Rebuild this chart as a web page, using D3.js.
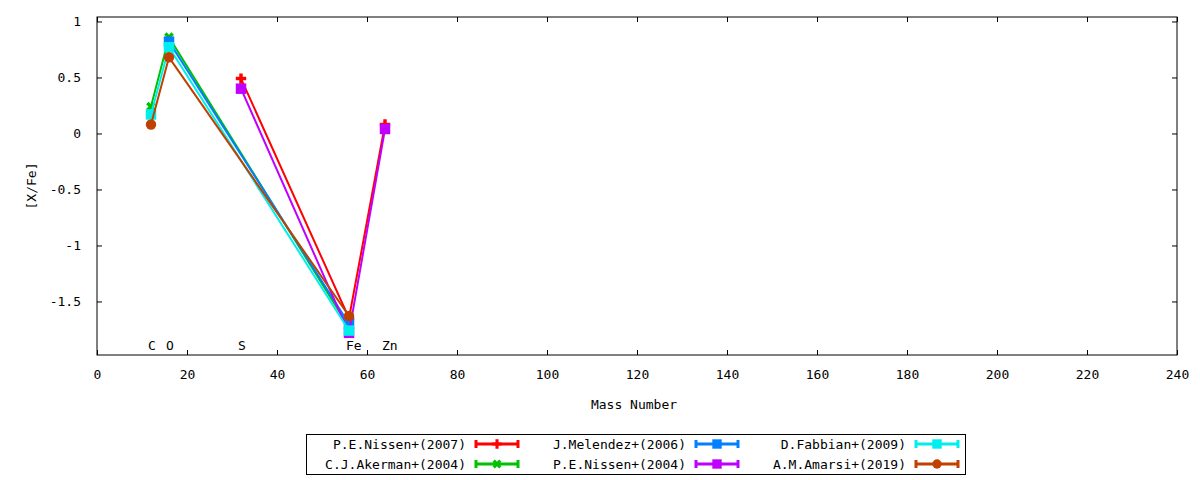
<!DOCTYPE html>
<html>
<head>
<meta charset="utf-8">
<script src="https://cdn.jsdelivr.net/npm/d3@7"></script>
<style>
  body { margin: 0; background: #fff; }
  text { font-family: "DejaVu Sans Mono", monospace; font-size: 13px; fill: #000; }
</style>
</head>
<body>
<div class="canvas"></div>
<script>
// data
const elements = ['C', 'O', 'S', 'Fe', 'Zn'];
const elementMass = [12, 16, 32, 56, 64];

const seriesNames = ['P.E.Nissen+(2007)', 'C.J.Akerman+(2004)', 'J.Melendez+(2006)',
                     'P.E.Nissen+(2004)', 'D.Fabbian+(2009)', 'A.M.Amarsi+(2019)'];
const seriesColors = ['#ff0000', '#00c000', '#0080ff', '#c000ff', '#00eeee', '#c04000'];
const seriesMarkers = ['plus', 'times', 'square', 'square', 'square', 'circle'];

// [mass, value] per series
const nissen2007 = [[32, 0.49], [56, -1.65], [64, 0.08]];
const akerman2004 = [[12, 0.24], [16, 0.86], [56, -1.73]];
const melendez2006 = [[16, 0.82], [56, -1.70]];
const nissen2004 = [[32, 0.40], [56, -1.78], [64, 0.04]];
const fabbian2009 = [[12, 0.17], [16, 0.77], [56, -1.76]];
const amarsi2019 = [[12, 0.08], [16, 0.68], [56, -1.63]];
const seriesData = [nissen2007, akerman2004, melendez2006, nissen2004, fabbian2009, amarsi2019];

const xTicks = d3.range(0, 241, 20);
const yTicks = [-1.5, -1, -0.5, 0, 0.5, 1];

// dimensions
const margin = { top: 17, right: 23, bottom: 125, left: 97 };
const graphWidth = 1200 - margin.left - margin.right;
const graphHeight = 480 - margin.top - margin.bottom;

const svg = d3.select('.canvas')
    .append('svg')
    .attr('width', 1200)
    .attr('height', 480);

const graph = svg.append('g')
    .attr('transform', `translate(${margin.left}, ${margin.top})`);

// scales
const x = d3.scaleLinear().domain([0, 240]).range([0, graphWidth]);
const y = d3.scaleLinear().domain([-1.978, 1.04]).range([graphHeight, 0]);

// axes, gnuplot style ticks inward and mirrored
const tick = -5;
graph.append('g')
    .attr('transform', `translate(0, ${graphHeight})`)
    .call(d3.axisBottom(x).tickValues(xTicks).tickSize(tick).tickPadding(15).tickFormat(d3.format('d')));
graph.append('g')
    .call(d3.axisTop(x).tickValues(xTicks).tickSize(tick).tickFormat(''));
graph.append('g')
    .call(d3.axisLeft(y).tickValues(yTicks).tickSize(tick).tickPadding(16).tickFormat(d => d));
graph.append('g')
    .attr('transform', `translate(${graphWidth}, 0)`)
    .call(d3.axisRight(y).tickValues(yTicks).tickSize(tick).tickFormat(''));

graph.selectAll('.domain').remove();
graph.selectAll('.tick line').attr('stroke', '#000');
graph.selectAll('.tick text').style('font-family', '"DejaVu Sans Mono", monospace').style('font-size', '13px');

graph.append('rect')
    .attr('width', graphWidth)
    .attr('height', graphHeight)
    .attr('fill', 'none')
    .attr('stroke', '#000')
    .attr('stroke-width', 1);

// axis titles
svg.append('text')
    .attr('x', margin.left + graphWidth / 2 - 3)
    .attr('y', 409)
    .attr('text-anchor', 'middle')
    .text('Mass Number');

svg.append('text')
    .attr('transform', 'translate(36, 186) rotate(-90)')
    .attr('text-anchor', 'middle')
    .text('[X/Fe]');

// element labels along bottom
graph.selectAll('.elem')
    .data(elements)
    .enter()
    .append('text')
        .attr('class', 'elem')
        .attr('x', (d, i) => x(elementMass[i]) - 3)
        .attr('y', graphHeight - 5)
        .text(d => d);

// markers
const markerPath = (type, s = 1) => {
    if (type === 'plus' || type === 'times') return d3.symbol().type(d3.symbolCross).size(60 * s)();
    if (type === 'square') return d3.symbol().type(d3.symbolSquare).size(110 * s)();
    return d3.symbol().type(d3.symbolCircle).size(85 * s)();
};
const markerRot = (type) => type === 'times' ? 45 : 0;

const line = d3.line().x(d => x(d[0])).y(d => y(d[1]));

const plot = graph.append('g');
seriesData.forEach((data, i) => {
    plot.append('path')
        .datum(data)
        .attr('d', line)
        .attr('fill', 'none')
        .attr('stroke', seriesColors[i])
        .attr('stroke-width', 2);

    plot.selectAll(`.pt${i}`)
        .data(data)
        .enter()
        .append('path')
            .attr('class', `pt${i}`)
            .attr('d', markerPath(seriesMarkers[i]))
            .attr('transform', d => `translate(${x(d[0])}, ${y(d[1])}) rotate(${markerRot(seriesMarkers[i])})`)
            .attr('fill', seriesColors[i]);
});

// legend
const legend = svg.append('g');
legend.append('rect')
    .attr('x', 306.5)
    .attr('y', 434.5)
    .attr('width', 659)
    .attr('height', 40)
    .attr('fill', 'none')
    .attr('stroke', '#000');

seriesNames.forEach((name, i) => {
    const col = Math.floor(i / 2);
    const row = i % 2;
    const tx = 466 + col * 220;
    const ty = 444 + row * 20;
    const g = legend.append('g');
    g.append('text')
        .attr('x', tx)
        .attr('y', ty)
        .attr('dy', '0.35em')
        .attr('text-anchor', 'end')
        .text(name);
    const x0 = tx + 10, x1 = tx + 52;
    g.append('line')
        .attr('x1', x0).attr('x2', x1).attr('y1', ty).attr('y2', ty)
        .attr('stroke', seriesColors[i]).attr('stroke-width', 3);
    [x0, x1].forEach(cx => {
        g.append('line')
            .attr('x1', cx).attr('x2', cx).attr('y1', ty - 4).attr('y2', ty + 4)
            .attr('stroke', seriesColors[i]).attr('stroke-width', 3);
    });
    g.append('path')
        .attr('d', markerPath(seriesMarkers[i], 0.8))
        .attr('transform', `translate(${(x0 + x1) / 2}, ${ty}) rotate(${markerRot(seriesMarkers[i])})`)
        .attr('fill', seriesColors[i]);
});
</script>
</body>
</html>
